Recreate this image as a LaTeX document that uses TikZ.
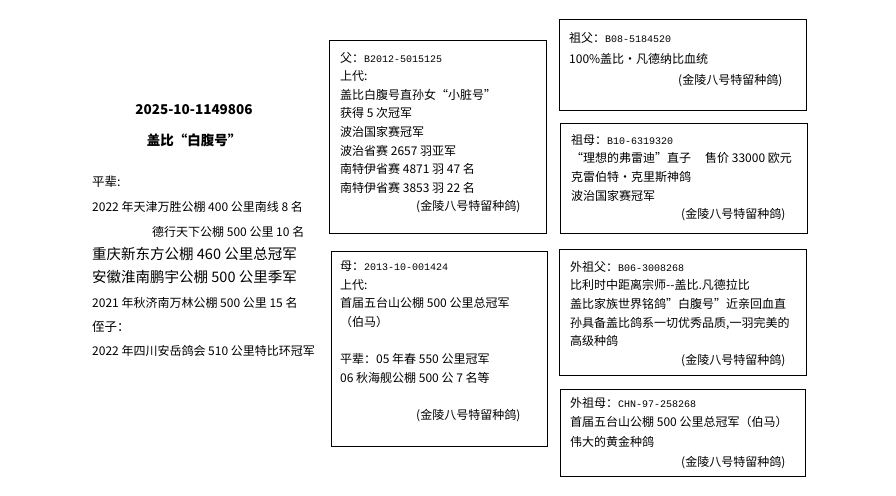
\documentclass[tikz,border=0pt]{standalone}
\usepackage{fontspec}
\setmainfont{Noto Sans CJK SC}
\newfontfamily\codefont{Liberation Mono}
\newcommand{\ringcode}[1]{{\codefont\fontsize{10}{10}\selectfont #1}}

\tikzset{
	pedbox/.style={draw, line width=1pt, anchor=north west, inner sep=0pt, outer sep=0pt},
	pedtext/.style={anchor=north west, align=left, inner sep=0pt, font={\fontsize{12}{18.6}\selectfont}},
	leftline/.style={anchor=west, inner sep=0pt, font={\fontsize{12}{12}\selectfont}},
	titleline/.style={inner sep=0pt, font={\bfseries\fontsize{13.5}{13.5}\selectfont}},
}

\begin{document}
\begin{tikzpicture}[x=1pt, y=-1pt]
			%%%%% START %%%%%
			
			\path[use as bounding box, fill=white] (0, 0) rectangle (896, 495);
			
			% left column
			\node[titleline] (ringNo) at (194, 110) {2025-10-1149806};
			\node[titleline] (birdName) at (194, 140) {盖比“白腹号”};
			
			\node[leftline, font={\fontsize{12.5}{12.5}\selectfont}] (pb) at (92, 182) {平辈:};
			\node[leftline] (pb1) at (92, 207) {2022 年天津万胜公棚 400 公里南线 8 名};
			\node[leftline] (pb2) at (152, 232) {德行天下公棚 500 公里 10 名};
			\node[leftline, font={\fontsize{14.5}{14.5}\selectfont}] (pb3) at (92, 254) {重庆新东方公棚 460 公里总冠军};
			\node[leftline, font={\fontsize{14.5}{14.5}\selectfont}] (pb4) at (92, 277) {安徽淮南鹏宇公棚 500 公里季军};
			\node[leftline] (pb5) at (92, 303) {2021 年秋济南万林公棚 500 公里 15 名};
			\node[leftline, font={\fontsize{12.5}{12.5}\selectfont}] (zz) at (92, 327) {侄子：};
			\node[leftline] (zz1) at (92, 351) {2022 年四川安岳鸽会 510 公里特比环冠军};
			
			% sire and dam
			\node[pedbox, minimum width=217, minimum height=192] (fu) at (329, 41) {};
			\node[pedtext] (fuText) at ([xshift=11pt, yshift=-11pt]fu.north west) {父：\ringcode{B2012-5015125}\\上代:\\盖比白腹号直孙女“小脏号”\\获得 5 次冠军\\波治国家赛冠军\\波治省赛 2657 羽亚军\\南特伊省赛 4871 羽 47 名\\南特伊省赛 3853 羽 22 名\\\hspace*{76pt}(金陵八号特留种鸽)};
			
			\node[pedbox, minimum width=216, minimum height=195] (mu) at (331, 251) {};
			\node[pedtext] (muText) at ([xshift=9pt, yshift=-10pt]mu.north west) {母：\ringcode{2013-10-001424}\\上代:\\首届五台山公棚 500 公里总冠军\\（伯马）\\[18.6pt]平辈：05 年春 550 公里冠军\\06 秋海舰公棚 500 公 7 名等\\[18.6pt]\hspace*{76pt}(金陵八号特留种鸽)};
			
			% grandparents
			\node[pedbox, minimum width=247, minimum height=90] (zf) at (559, 20) {};
			\node[pedtext, font={\fontsize{12}{21}\selectfont}] (zfText) at ([xshift=10pt, yshift=-12pt]zf.north west) {祖父：\ringcode{B08-5184520}\\100\%盖比·凡德纳比血统\\\hspace*{109pt}(金陵八号特留种鸽)};
			
			\node[pedbox, minimum width=247, minimum height=110] (zm) at (560, 123) {};
			\node[pedtext] (zmText) at ([xshift=11pt, yshift=-11pt]zm.north west) {祖母：\ringcode{B10-6319320}\\“理想的弗雷迪”直子\hspace{14pt}售价 33000 欧元\\克雷伯特·克里斯神鸽\\波治国家赛冠军\\\hspace*{110pt}(金陵八号特留种鸽)};
			
			\node[pedbox, minimum width=247, minimum height=126] (wzf) at (559, 249) {};
			\node[pedtext] (wzfText) at ([xshift=11pt, yshift=-12pt]wzf.north west) {外祖父：\ringcode{B06-3008268}\\比利时中距离宗师-{}-盖比.凡德拉比\\盖比家族世界铭鸽”白腹号”近亲回血直\\孙具备盖比鸽系一切优秀品质,一羽完美的\\高级种鸽\\\hspace*{111pt}(金陵八号特留种鸽)};
			
			\node[pedbox, minimum width=245, minimum height=87] (wzm) at (560, 389) {};
			\node[pedtext, font={\fontsize{12}{19.7}\selectfont}] (wzmText) at ([xshift=10pt, yshift=-8pt]wzm.north west) {外祖母：\ringcode{CHN-97-258268}\\首届五台山公棚 500 公里总冠军（伯马）\\伟大的黄金种鸽\\\hspace*{111pt}(金陵八号特留种鸽)};
			
			%%%%% END %%%%%
\end{tikzpicture}
\end{document}
